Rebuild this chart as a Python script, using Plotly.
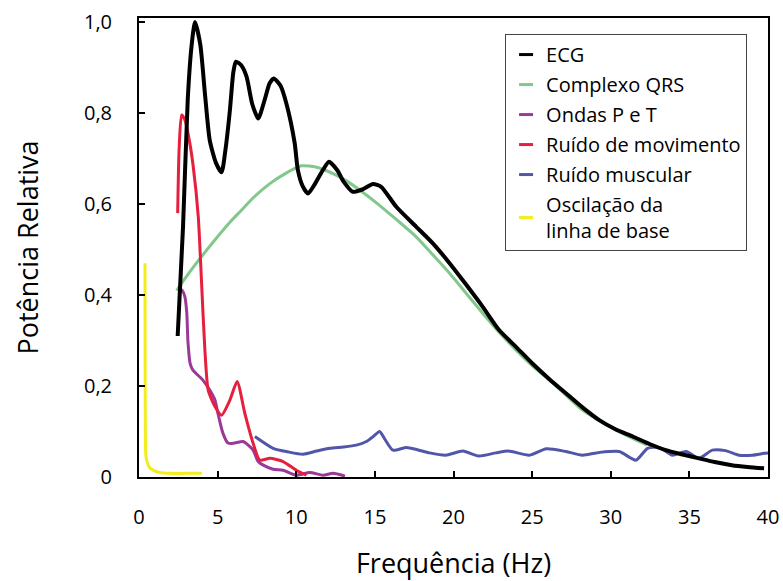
import plotly.graph_objects as go

# ECG
ecg_f = [2.46, 2.8, 3.1, 3.35, 3.56, 3.9, 4.2, 4.5, 4.9, 5.25, 5.5, 5.78, 6.0, 6.16, 6.5, 6.84, 7.2, 7.58, 8.0, 8.3, 8.57, 9.0, 9.38, 9.9, 10.1, 10.4, 10.75, 11.2, 11.7, 12.08, 12.6, 13.0, 13.6, 14.2, 14.88, 15.4, 16.36, 17.63, 18.7, 19.75, 20.8, 21.86, 22.9, 24.0, 25.0, 26.1, 27.15, 28.2, 29.27, 30.3, 31.4, 32.5, 33.5, 34.5, 35.6, 36.6, 37.7, 38.7, 39.75]
ecg_v = [0.31, 0.55, 0.83, 0.95, 1.0, 0.95, 0.84, 0.74, 0.69, 0.67, 0.72, 0.806, 0.89, 0.913, 0.905, 0.88, 0.82, 0.788, 0.83, 0.865, 0.876, 0.86, 0.82, 0.734, 0.675, 0.64, 0.623, 0.645, 0.675, 0.693, 0.675, 0.65, 0.627, 0.632, 0.644, 0.638, 0.594, 0.55, 0.513, 0.47, 0.423, 0.374, 0.323, 0.285, 0.25, 0.215, 0.184, 0.153, 0.125, 0.105, 0.089, 0.072, 0.059, 0.05, 0.041, 0.033, 0.026, 0.022, 0.019]

# Complexo QRS
qrs_f = [2.39, 3.0, 3.87, 4.8, 5.78, 6.5, 7.3, 8.32, 9.3, 10.33, 11.3, 12.34, 13.2, 14.03, 15.2, 16.4, 17.63, 18.7, 19.75, 20.8, 21.86, 22.9, 23.98, 25.0, 26.1, 27.15, 28.2, 29.3, 30.33, 31.2, 31.8, 32.3]
qrs_v = [0.41, 0.44, 0.48, 0.52, 0.56, 0.586, 0.615, 0.645, 0.667, 0.684, 0.681, 0.667, 0.651, 0.631, 0.60, 0.565, 0.528, 0.488, 0.448, 0.404, 0.36, 0.318, 0.279, 0.245, 0.213, 0.18, 0.147, 0.123, 0.103, 0.088, 0.078, 0.07]

# Ondas P e T
pt_f = [2.5, 2.75, 2.92, 3.04, 3.11, 3.25, 3.43, 4.06, 4.5, 4.83, 5.02, 5.33, 5.65, 6.0, 6.62, 7.05, 7.26, 7.58, 7.9, 8.53, 9.16, 10.0, 10.86, 11.7, 12.34, 13.1]
pt_v = [0.415, 0.41, 0.396, 0.36, 0.3, 0.25, 0.235, 0.213, 0.191, 0.169, 0.14, 0.097, 0.075, 0.074, 0.078, 0.067, 0.059, 0.034, 0.026, 0.017, 0.015, 0.004, 0.01, 0.004, 0.008, 0.002]

# Ruído de movimento
mov_f = [2.46, 2.55, 2.71, 2.92, 3.2, 3.45, 3.77, 3.98, 4.19, 4.4, 4.83, 5.25, 5.78, 6.24, 6.73, 7.26, 7.68, 8.32, 9.16, 10.0, 10.65]
mov_v = [0.58, 0.72, 0.796, 0.785, 0.74, 0.682, 0.572, 0.426, 0.279, 0.191, 0.155, 0.136, 0.169, 0.21, 0.14, 0.074, 0.037, 0.041, 0.034, 0.015, 0.004]

# Ruído muscular
mus_f = [7.37, 8.53, 9.5, 10.43, 11.3, 12.13, 13.0, 13.82, 14.46, 14.9, 15.3, 15.6, 16.15, 17.0, 17.7, 18.48, 19.5, 20.6, 21.6, 22.7, 23.5, 24.83, 25.9, 27.15, 28.2, 29.27, 30.54, 31.6, 32.34, 33.1, 33.9, 34.8, 35.6, 36.46, 37.3, 38.16, 39.0, 39.75, 40.0]
mus_v = [0.089, 0.063, 0.055, 0.05, 0.057, 0.063, 0.066, 0.07, 0.078, 0.089, 0.1, 0.085, 0.059, 0.065, 0.06, 0.053, 0.048, 0.057, 0.046, 0.053, 0.057, 0.048, 0.062, 0.056, 0.048, 0.054, 0.056, 0.037, 0.063, 0.065, 0.048, 0.056, 0.041, 0.059, 0.058, 0.048, 0.048, 0.052, 0.053]

# Oscilação da linha de base
bas_f = [0.38, 0.39, 0.40, 0.43, 0.5, 0.65, 0.9, 1.3, 2.0, 3.0, 4.0]
bas_v = [0.47, 0.3, 0.12, 0.05, 0.035, 0.022, 0.015, 0.01, 0.008, 0.008, 0.008]

x_ticks = [0, 5, 10, 15, 20, 25, 30, 35, 40]
y_ticks = [0, 0.2, 0.4, 0.6, 0.8, 1.0]
y_tick_text = ["0", "0,2", "0,4", "0,6", "0,8", "1,0"]

series = [
    ("ECG", ecg_f, ecg_v, "#000000", 4),
    ("Complexo QRS", qrs_f, qrs_v, "#82c78c", 3),
    ("Ondas P e T", pt_f, pt_v, "#9a3a98", 3),
    ("Ruído de movimento", mov_f, mov_v, "#e51f3d", 3),
    ("Ruído muscular", mus_f, mus_v, "#5256a8", 3),
    ("Oscilação da<br>linha de base", bas_f, bas_v, "#f3ed1d", 3),
]

FONT = "Open Sans"
fig = go.Figure()
draw_order = [4, 5, 1, 2, 3, 0]
for i in draw_order:
    name, xs, ys, c, w = series[i]
    fig.add_trace(go.Scatter(x=xs, y=ys, mode="lines", line=dict(color=c, width=w, shape="spline", smoothing=0.6),
                             showlegend=False, hoverinfo="skip"))
for i, (name, xs, ys, c, w) in enumerate(series):
    fig.add_trace(go.Scatter(x=[None], y=[None], mode="markers", name=name, legendgroup=str(i),
                             marker=dict(symbol="line-ew", size=10, line=dict(color=c, width=3))))

fig.update_layout(
    width=783, height=581,
    margin=dict(l=139, r=15, t=18, b=104),
    paper_bgcolor="white", plot_bgcolor="white",
    font=dict(family=FONT, color="black"),
    showlegend=True,
    legend=dict(x=0.582, y=0.965, xanchor="left", yanchor="top",
                bordercolor="#444", borderwidth=1, bgcolor="white",
                font=dict(size=20, family=FONT), traceorder="grouped", tracegroupgap=1,
                itemwidth=30),
    xaxis=dict(range=[0, 40], tickvals=x_ticks, ticks="inside", ticklen=6, tickwidth=2, tickcolor="black",
               showline=True, linecolor="black", linewidth=2, mirror=True, showgrid=False, zeroline=False,
               tickfont=dict(size=20), ticklabelstandoff=21, automargin=False,
               title=dict(text="Frequência (Hz)", font=dict(size=27), standoff=29)),
    yaxis=dict(range=[0, 1.009], tickvals=y_ticks, ticktext=y_tick_text, ticks="inside", ticklen=6, tickwidth=2,
               tickcolor="black", showline=True, linecolor="black", linewidth=2, mirror=True, showgrid=False,
               zeroline=False, tickfont=dict(size=20), ticklabelstandoff=21, automargin=False,
               title=dict(text="Potência Relativa", font=dict(size=27), standoff=38)),
)
fig.write_html("out.html")
